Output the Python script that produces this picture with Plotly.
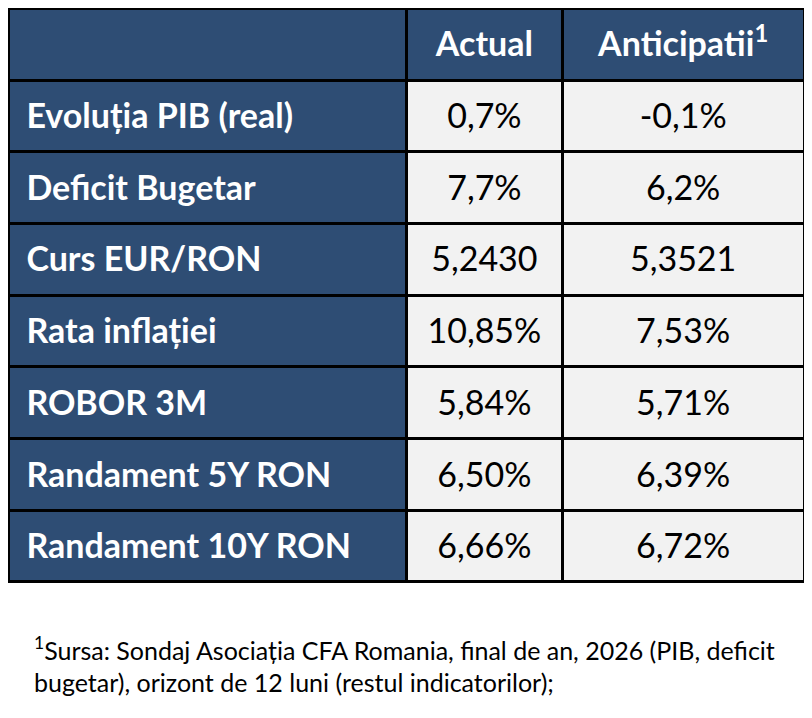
import plotly.graph_objects as go

# date tabel
indicatori = ["Evoluția PIB (real)", "Deficit Bugetar", "Curs EUR/RON", "Rata inflației",
              "ROBOR 3M", "Randament 5Y RON", "Randament 10Y RON"]
actual = ["0,7%", "7,7%", "5,2430", "10,85%", "5,84%", "6,50%", "6,66%"]
anticipatii = ["-0,1%", "6,2%", "5,3521", "7,53%", "5,71%", "6,39%", "6,72%"]
coloane = ["", "Actual", "Anticipatii<sup>1</sup>"]
nota = ("<sup>1</sup>Sursa: Sondaj Asociația CFA Romania, final de an, 2026 (PIB, deficit<br>"
        "bugetar), orizont de 12 luni (restul indicatorilor);")

blue = "#2E4D74"
grey = "#F2F2F2"
font = "Lato"
n = len(indicatori)
W, H = 796, 702  # pagina are 8px margine
base = 40.5  # nbsp la 40.5px impinge textul (34px) spre mijlocul celulei


def txt(s, bold=False, left=False):
    if s == "":
        return ""
    if bold:
        s = "<b>" + s + "</b>"
    s = '\u00a0<span style="font-size:34px">' + s + "</span>"
    if not left:
        s += "\u00a0"
    # <br> opreste impartirea automata pe spatii din go.Table
    return s + "<br>"


fig = go.Figure(go.Table(
    columnwidth=[399, 156, 242],
    domain=dict(x=[0, 1], y=[0, 1]),
    header=dict(
        values=[txt(c, True) for c in coloane],
        fill_color=blue,
        line=dict(color="black", width=3),
        align=["left", "center", "center"],
        font=dict(family=font, size=base, color="white"),
        height=72,
    ),
    cells=dict(
        values=[[txt(s, True, True) for s in indicatori],
                [txt(s) for s in actual], [txt(s) for s in anticipatii]],
        fill_color=[[blue] * n, [grey] * n, [grey] * n],
        line=dict(color="black", width=3),
        align=["left", "center", "center"],
        font=dict(family=font, size=base, color=[["white"] * n, ["black"] * n, ["black"] * n]),
        height=71.7,
    ),
))

fig.add_annotation(
    x=24 / W, y=1 - 622 / H, xref="paper", yref="paper",
    xanchor="left", yanchor="top", align="left", showarrow=False,
    text=nota, font=dict(family=font, size=25, color="black"),
)

fig.update_layout(
    width=W, height=H,
    margin=dict(l=0, r=0, t=0, b=0),
    paper_bgcolor="white",
    plot_bgcolor="white",
)

fig.write_html("out.html")
